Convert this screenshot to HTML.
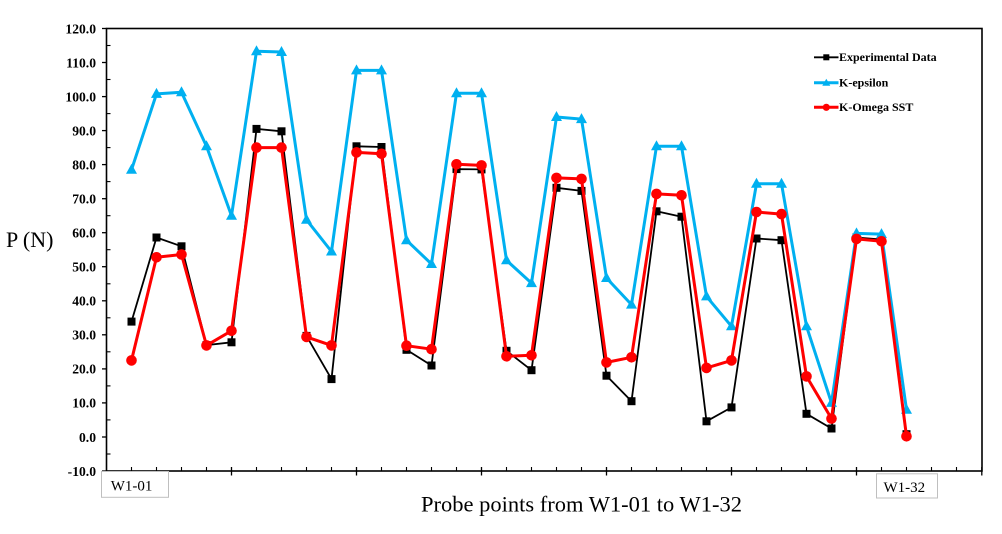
<!DOCTYPE html>
<html>
<head>
<meta charset="utf-8">
<style>
html,body{margin:0;padding:0;background:#fff;}
svg{display:block;}
</style>
</head>
<body>
<svg width="1002" height="534" viewBox="0 0 1002 534" xmlns="http://www.w3.org/2000/svg">
<defs>
  <marker id="sq" markerUnits="userSpaceOnUse" markerWidth="10" markerHeight="10" refX="5" refY="5" overflow="visible">
    <rect x="1" y="1" width="8" height="8" fill="#000"/>
  </marker>
  <marker id="tri" markerUnits="userSpaceOnUse" markerWidth="12" markerHeight="12" refX="6" refY="6" overflow="visible">
    <polygon points="6,0 11.5,10 0.5,10" fill="#00B0F0"/>
  </marker>
  <marker id="cir" markerUnits="userSpaceOnUse" markerWidth="12" markerHeight="12" refX="6" refY="6" overflow="visible">
    <circle cx="6" cy="6" r="5.3" fill="#FF0000"/>
  </marker>
</defs>

<!-- Frame -->
<rect x="106.5" y="28.5" width="875.5" height="442.5" fill="none" stroke="#000" stroke-width="1.6"/>

<!-- Y ticks major (outside) -->
<g stroke="#000" stroke-width="1.3">
  <line x1="102" y1="28.5" x2="106.5" y2="28.5"/>
  <line x1="102" y1="62.5" x2="106.5" y2="62.5"/>
  <line x1="102" y1="96.6" x2="106.5" y2="96.6"/>
  <line x1="102" y1="130.6" x2="106.5" y2="130.6"/>
  <line x1="102" y1="164.6" x2="106.5" y2="164.6"/>
  <line x1="102" y1="198.7" x2="106.5" y2="198.7"/>
  <line x1="102" y1="232.7" x2="106.5" y2="232.7"/>
  <line x1="102" y1="266.7" x2="106.5" y2="266.7"/>
  <line x1="102" y1="300.8" x2="106.5" y2="300.8"/>
  <line x1="102" y1="334.8" x2="106.5" y2="334.8"/>
  <line x1="102" y1="368.9" x2="106.5" y2="368.9"/>
  <line x1="102" y1="402.9" x2="106.5" y2="402.9"/>
  <line x1="102" y1="437.0" x2="106.5" y2="437.0"/>
  <line x1="102" y1="471" x2="106.5" y2="471"/>
</g>
<!-- Y ticks minor (inside) -->
<g stroke="#000" stroke-width="1.1">
  <line x1="106.5" y1="45.5" x2="110.5" y2="45.5"/>
  <line x1="106.5" y1="79.5" x2="110.5" y2="79.5"/>
  <line x1="106.5" y1="113.6" x2="110.5" y2="113.6"/>
  <line x1="106.5" y1="147.6" x2="110.5" y2="147.6"/>
  <line x1="106.5" y1="181.6" x2="110.5" y2="181.6"/>
  <line x1="106.5" y1="215.7" x2="110.5" y2="215.7"/>
  <line x1="106.5" y1="249.7" x2="110.5" y2="249.7"/>
  <line x1="106.5" y1="283.8" x2="110.5" y2="283.8"/>
  <line x1="106.5" y1="317.8" x2="110.5" y2="317.8"/>
  <line x1="106.5" y1="351.8" x2="110.5" y2="351.8"/>
  <line x1="106.5" y1="385.9" x2="110.5" y2="385.9"/>
  <line x1="106.5" y1="419.9" x2="110.5" y2="419.9"/>
  <line x1="106.5" y1="454.0" x2="110.5" y2="454.0"/>
</g>

<!-- X minor ticks (inside, every unit) -->
<g stroke="#000" stroke-width="1.1">
  <line x1="131.5" y1="467" x2="131.5" y2="471"/>
  <line x1="156.5" y1="467" x2="156.5" y2="471"/>
  <line x1="181.5" y1="467" x2="181.5" y2="471"/>
  <line x1="206.5" y1="467" x2="206.5" y2="471"/>
  <line x1="256.5" y1="467" x2="256.5" y2="471"/>
  <line x1="281.5" y1="467" x2="281.5" y2="471"/>
  <line x1="306.5" y1="467" x2="306.5" y2="471"/>
  <line x1="331.5" y1="467" x2="331.5" y2="471"/>
  <line x1="381.5" y1="467" x2="381.5" y2="471"/>
  <line x1="406.5" y1="467" x2="406.5" y2="471"/>
  <line x1="431.5" y1="467" x2="431.5" y2="471"/>
  <line x1="456.5" y1="467" x2="456.5" y2="471"/>
  <line x1="506.5" y1="467" x2="506.5" y2="471"/>
  <line x1="531.5" y1="467" x2="531.5" y2="471"/>
  <line x1="556.5" y1="467" x2="556.5" y2="471"/>
  <line x1="581.5" y1="467" x2="581.5" y2="471"/>
  <line x1="631.5" y1="467" x2="631.5" y2="471"/>
  <line x1="656.5" y1="467" x2="656.5" y2="471"/>
  <line x1="681.5" y1="467" x2="681.5" y2="471"/>
  <line x1="706.5" y1="467" x2="706.5" y2="471"/>
  <line x1="756.5" y1="467" x2="756.5" y2="471"/>
  <line x1="781.5" y1="467" x2="781.5" y2="471"/>
  <line x1="806.5" y1="467" x2="806.5" y2="471"/>
  <line x1="831.5" y1="467" x2="831.5" y2="471"/>
  <line x1="881.5" y1="467" x2="881.5" y2="471"/>
  <line x1="906.5" y1="467" x2="906.5" y2="471"/>
  <line x1="931.5" y1="467" x2="931.5" y2="471"/>
  <line x1="956.5" y1="467" x2="956.5" y2="471"/>
</g>
<!-- X major ticks -->
<g stroke="#000" stroke-width="1.3">
  <line x1="231.5" y1="467" x2="231.5" y2="475.5"/>
  <line x1="356.5" y1="467" x2="356.5" y2="475.5"/>
  <line x1="481.5" y1="467" x2="481.5" y2="475.5"/>
  <line x1="606.5" y1="467" x2="606.5" y2="475.5"/>
  <line x1="731.5" y1="467" x2="731.5" y2="475.5"/>
  <line x1="856.5" y1="467" x2="856.5" y2="475.5"/>
  <line x1="981.8" y1="467" x2="981.8" y2="475.5"/>
</g>

<!-- Y tick labels -->
<g font-family="'Liberation Serif', serif" font-weight="bold" font-size="13.6" fill="#000" text-anchor="end">
  <text x="96" y="33.3">120.0</text>
  <text x="96" y="67.3">110.0</text>
  <text x="96" y="101.4">100.0</text>
  <text x="96" y="135.4">90.0</text>
  <text x="96" y="169.4">80.0</text>
  <text x="96" y="203.5">70.0</text>
  <text x="96" y="237.5">60.0</text>
  <text x="96" y="271.5">50.0</text>
  <text x="96" y="305.6">40.0</text>
  <text x="96" y="339.6">30.0</text>
  <text x="96" y="373.7">20.0</text>
  <text x="96" y="407.7">10.0</text>
  <text x="96" y="441.8">0.0</text>
  <text x="96" y="475.8">-10.0</text>
</g>

<!-- Axis title Y -->
<text x="6" y="247" font-family="'Liberation Serif', serif" font-size="22" fill="#000">P (N)</text>

<!-- Category boxes -->
<rect x="101.5" y="471.5" width="67" height="25.8" fill="#fff" stroke="#bfbfbf" stroke-width="1"/>
<text x="110.7" y="490.7" font-family="'Liberation Serif', serif" font-size="15" fill="#000">W1-01</text>
<rect x="876.5" y="473.8" width="61" height="24.2" fill="#fff" stroke="#bfbfbf" stroke-width="1"/>
<text x="883.5" y="492" font-family="'Liberation Serif', serif" font-size="15" fill="#000">W1-32</text>

<!-- X title -->
<text x="581.5" y="511.5" text-anchor="middle" font-family="'Liberation Serif', serif" font-size="22.5" fill="#000">Probe points from W1-01 to W1-32</text>

<!-- Experimental (black) -->
<polyline fill="none" stroke="#000" stroke-width="1.8" stroke-linejoin="round"
 marker-start="url(#sq)" marker-mid="url(#sq)" marker-end="url(#sq)"
 points="131.5,321.6 156.5,237.5 181.5,246.3 206.5,345.1 231.5,342.3 256.5,128.9 281.5,131.3 306.5,335.9 331.5,379.1 356.5,146.3 381.5,147.0 406.5,349.8 431.5,365.5 456.5,169.1 481.5,169.4 506.5,350.8 531.5,370.2 556.5,187.8 581.5,190.9 606.5,375.7 631.5,401.2 656.5,211.3 681.5,216.7 706.5,421.3 731.5,407.4 756.5,238.5 781.5,240.2 806.5,413.8 831.5,428.5 856.5,237.5 881.5,239.5 906.5,434.2"/>

<!-- K-epsilon (blue) -->
<polyline fill="none" stroke="#00B0F0" stroke-width="3" stroke-linejoin="round"
 marker-start="url(#tri)" marker-mid="url(#tri)" marker-end="url(#tri)"
 points="131.5,169.8 156.5,93.9 181.5,92.2 206.5,146.3 231.5,215.7 256.5,51.3 281.5,52.0 306.5,219.8 331.5,251.5 356.5,70.4 381.5,70.4 406.5,240.2 431.5,264.0 456.5,93.2 481.5,93.2 506.5,260.3 531.5,283.1 556.5,117.0 581.5,119.1 606.5,278.0 631.5,304.6 656.5,146.3 681.5,146.3 706.5,296.4 731.5,326.3 756.5,183.7 781.5,183.7 806.5,326.3 831.5,402.9 856.5,233.4 881.5,234.1 906.5,409.7"/>

<!-- K-Omega SST (red) -->
<polyline fill="none" stroke="#FF0000" stroke-width="3" stroke-linejoin="round"
 marker-start="url(#cir)" marker-mid="url(#cir)" marker-end="url(#cir)"
 points="131.5,360.4 156.5,257.3 181.5,254.5 206.5,345.4 231.5,330.8 256.5,147.6 281.5,147.6 306.5,336.9 331.5,345.4 356.5,152.4 381.5,153.8 406.5,345.7 431.5,349.2 456.5,164.3 481.5,165.4 506.5,356.3 531.5,355.3 556.5,177.9 581.5,178.9 606.5,362.4 631.5,357.3 656.5,193.9 681.5,195.3 706.5,367.9 731.5,360.4 756.5,212.0 781.5,214.1 806.5,376.4 831.5,418.6 856.5,238.9 881.5,241.3 906.5,436.3"/>

<!-- Legend -->
<g>
  <line x1="814" y1="57.3" x2="838.5" y2="57.3" stroke="#000" stroke-width="1.8"/>
  <rect x="823.3" y="54.3" width="6" height="6" fill="#000"/>
  <line x1="814" y1="82.7" x2="838.5" y2="82.7" stroke="#00B0F0" stroke-width="3"/>
  <polygon points="826.3,78.7 830.3,85.7 822.3,85.7" fill="#00B0F0"/>
  <line x1="814" y1="107.3" x2="838.5" y2="107.3" stroke="#FF0000" stroke-width="3"/>
  <circle cx="826.3" cy="107.3" r="3.6" fill="#FF0000"/>
  <g font-family="'Liberation Serif', serif" font-weight="bold" font-size="12" fill="#000">
    <text x="839" y="61.2">Experimental Data</text>
    <text x="839" y="86.6">K-epsilon</text>
    <text x="839" y="111.2">K-Omega SST</text>
  </g>
</g>
</svg>
</body>
</html>
